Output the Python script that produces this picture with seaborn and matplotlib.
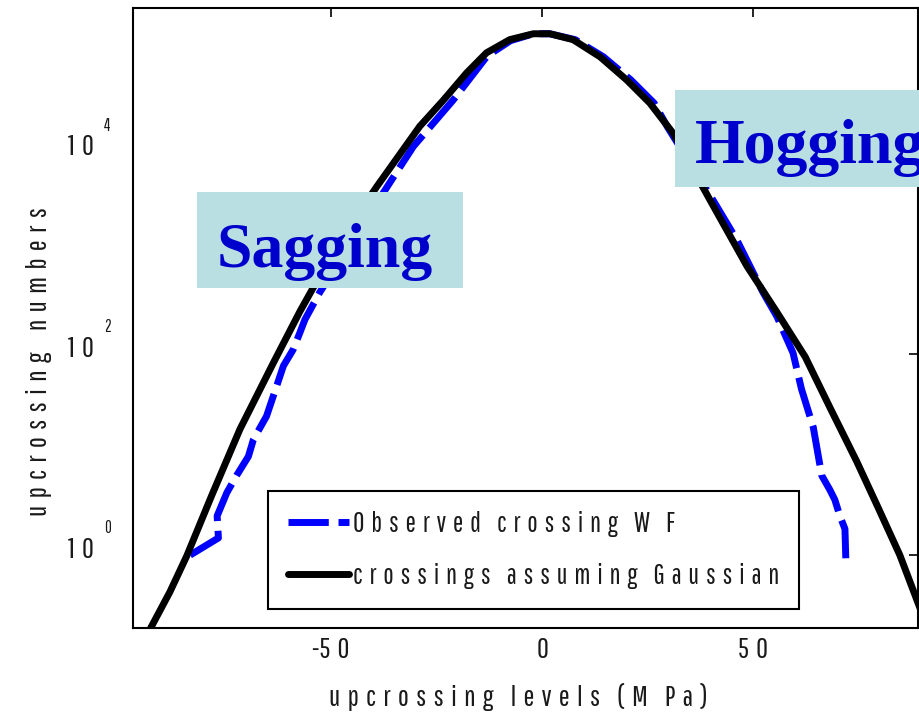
import matplotlib
matplotlib.use("Agg")
import matplotlib.pyplot as plt
from matplotlib import font_manager
from matplotlib.patches import Rectangle
from matplotlib.lines import Line2D
from matplotlib.ticker import NullLocator
from matplotlib.transforms import ScaledTranslation
import seaborn as sns
import pandas as pd

# Gaussian (Rice) upcrossing intensity
level_gauss = [-93.0, -88.2, -84.2, -78.3, -71.6, -63.7, -57.4, -54.2, -47.9, -39.2,
               -33.6, -29.0, -23.4, -17.9, -13.2, -7.7, -2.1, 1.8, 7.3, 13.7,
               20.0, 25.5, 31.0, 39.7, 48.5, 55.5, 62.3, 68.1, 74.5, 79.5, 84.7, 90.0]
count_gauss = [0.18, 0.43, 0.98, 3.9, 17.8, 81, 263, 457, 1320, 4570,
               9770, 18200, 33100, 61700, 97700, 132000, 151000, 151000, 132000, 89100,
               52500, 30900, 15500, 3390, 741, 262, 93, 29.5, 8.5, 3.0, 1.0, 0.26]

# Observed upcrossings of the wave-frequency stress
level_obs = [-83.4, -76.7, -77.0, -74.7, -72.4, -69.6, -68.4, -65.3, -63.7, -61.3,
             -59.0, -57.4, -56.2, -52.7, -36.1, -30.5, -21.1, -13.0, -7.5, -2.1,
             1.8, 7.8, 14.5, 21.0, 26.5, 29.7, 40.4, 46.1, 52.3, 55.6,
             59.4, 61.4, 64.2, 66.2, 68.1, 69.3, 70.5, 71.7, 71.9]
count_obs = [1.0, 1.48, 2.45, 4.17, 6.17, 9.55, 14.1, 24.0, 38.0, 75.9,
             110, 162, 219, 407, 5010, 11500, 33100, 91200, 129000, 151000,
             151000, 132000, 89100, 52500, 30900, 17800, 3390, 1350, 407, 234,
             102, 44.7, 18.6, 6.17, 4.47, 3.55, 2.45, 1.82, 0.93]

x_ticks = [-50, 0, 50]
x_tick_labels = ["-50", "0", "50"]
y_ticks = [1, 100, 10000]
y_tick_base = "10"
y_tick_exponents = ["0", "2", "4"]
series_names = ["Observed crossing W F", "crossings assuming Gaussian"]
x_label = "upcrossing levels (M Pa)"
y_label = "upcrossing numbers"
region_labels = ["Sagging", "Hogging"]


def spaced(text, word_gap="     "):
    """Wide letter spacing: a space plus a hair space between letters."""
    words = text.split(" ")
    return word_gap.join(" \u200a".join(w) for w in words)


def spaced_number(text):
    # the minus sign sits tight against the first digit
    sign = "-" if text.startswith("-") else ""
    return sign + spaced(text.lstrip("-"))


sns.set_theme(style="white")
names = {f.name for f in font_manager.fontManager.ttflist}
narrow = next((n for n in ["Pathway Gothic One", "Sofia Sans Extra Condensed",
                           "Roboto Condensed", "Liberation Sans"] if n in names))
plt.rcParams["font.family"] = [narrow, "DejaVu Sans"]

fs = 21
ink = "#1a1a1a"
fig = plt.figure(figsize=(9.19, 7.24), dpi=100)
ax = fig.add_axes([0.1444, 0.1330, 0.8545, 0.8559])
ax.set_yscale("log")

df_obs = pd.DataFrame({"level": level_obs, "count": count_obs})
df_gauss = pd.DataFrame({"level": level_gauss, "count": count_gauss})

sns.lineplot(data=df_obs, x="level", y="count", sort=False, estimator=None,
             color="#0000FF", lw=5, ax=ax)
ax.lines[-1].set_dashes([5.8, 1.4])
sns.lineplot(data=df_gauss, x="level", y="count", sort=False, estimator=None,
             color="black", lw=5, ax=ax)

ax.set_xlim(-97, 89)
ax.set_ylim(0.19, 2.72e5)
ax.set_xticks(x_ticks, [spaced_number(t) for t in x_tick_labels])
ax.set_yticks(y_ticks, [spaced_number(y_tick_base)] * len(y_ticks))
ax.yaxis.set_minor_locator(NullLocator())
ax.xaxis.set_minor_locator(NullLocator())
ax.tick_params(axis="both", which="major", direction="in", length=6.5, width=1.2,
               color="black", top=True, right=True, labelsize=fs, labelcolor=ink)
ax.tick_params(axis="y", pad=28)
ax.tick_params(axis="x", pad=7)
lift = ScaledTranslation(0, 5.5 / 72, fig.dpi_scale_trans)
for lab in ax.get_yticklabels():
    lab.set_transform(lab.get_transform() + lift)
# exponents of the decade labels
for val, ex in zip(y_ticks, y_tick_exponents):
    ax.annotate(ex, xy=(0, val), xycoords=("axes fraction", "data"),
                xytext=(-20.5, 13.5), textcoords="offset points", fontsize=12,
                color=ink, ha="left", va="bottom", annotation_clip=False)
for sp in ax.spines.values():
    sp.set_color("black")
    sp.set_linewidth(1.5)

ax.set_xlabel(spaced(x_label, "    "), fontsize=fs, color=ink, va="top")
ax.xaxis.set_label_coords(0.4913, -0.089)
ax.set_ylabel(spaced(y_label), fontsize=fs, color=ink)
ax.yaxis.set_label_coords(-0.1028, 0.4296)

# region annotation boxes
box_color = "#BADFE3"
text_color = "#0000CC"
ax.add_patch(Rectangle((0.0819, 0.5482), 0.3387, 0.1549, transform=ax.transAxes,
                       facecolor=box_color, edgecolor="none", zorder=5, clip_on=False))
ax.text(0.1074, 0.5825, region_labels[0], transform=ax.transAxes, fontsize=46,
        fontweight="bold", family="Liberation Serif", color=text_color, zorder=6,
        ha="left", va="baseline")
ax.add_patch(Rectangle((0.6906, 0.7112), 0.40, 0.1565, transform=ax.transAxes,
                       facecolor=box_color, edgecolor="none", zorder=5, clip_on=False))
ax.text(0.7160, 0.7494, region_labels[1], transform=ax.transAxes, fontsize=46,
        fontweight="bold", family="Liberation Serif", color=text_color, zorder=6,
        ha="left", va="baseline", clip_on=False)

handles = [Line2D([], [], color="#0000FF", lw=5, dashes=[5.8, 1.4]),
           Line2D([], [], color="black", lw=5)]
leg = ax.legend(handles, [spaced(s, "    ") for s in series_names], loc="lower left",
                bbox_to_anchor=(0.172, 0.030), borderaxespad=0, fontsize=20,
                frameon=True, fancybox=False, framealpha=1, edgecolor="black",
                handlelength=2.2, handletextpad=0.15, borderpad=0.72, labelspacing=0.95)
leg.get_frame().set_linewidth(1.5)
for t in leg.get_texts():
    t.set_color(ink)
leg.set_zorder(7)

fig.savefig("out.png", dpi=100)
